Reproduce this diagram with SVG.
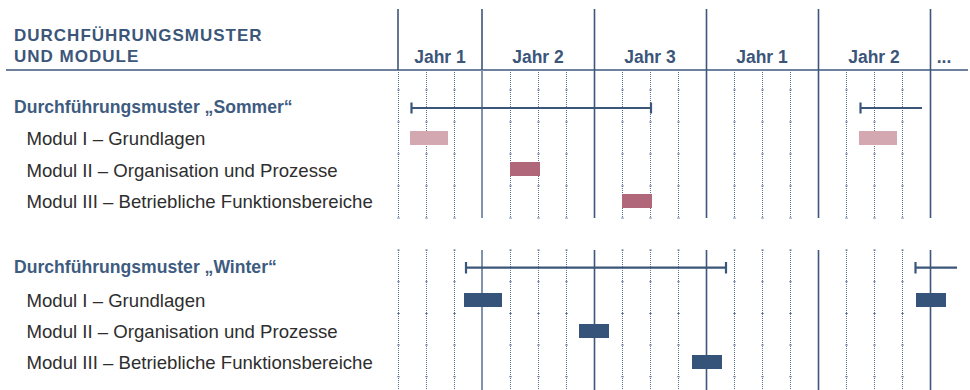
<svg xmlns="http://www.w3.org/2000/svg" width="970" height="390" viewBox="0 0 970 390">
<style>
text{font-family:"Liberation Sans",Arial,sans-serif;}
.hd{font-weight:bold;fill:#3c5679;font-size:17px;letter-spacing:1px;}
.yr{font-weight:bold;fill:#3c5679;font-size:17.5px;text-anchor:middle;}
.ti{font-weight:bold;font-size:17.6px;fill:#3e5b80;}
.mo{font-size:18.6px;fill:#2e2e2e;}
.solid{stroke:#3d5679;stroke-width:1.6;fill:none;}
.light{stroke:#8192aa;stroke-width:2;fill:none;}
.dots{stroke:#5d7392;stroke-width:1;stroke-dasharray:1 1;fill:none;}
.ticks{stroke:#5d7392;stroke-width:2.4;fill:none;}
.rule{stroke:#6e819d;stroke-width:2;fill:none;}
.span{stroke:#3a5679;stroke-width:2.2;fill:none;}
.pl{fill:#d3a8b1;}
.pd{fill:#b06779;}
.bd{fill:#365479;}
</style>
<defs>
<path id="dotS" d="M398.5,70V218M426.5,70V218M454.5,70V218M510.5,70V218M538.5,70V218M566.5,70V218M622.5,70V218M650.5,70V218M678.5,70V218M734.5,70V218M762.5,70V218M790.5,70V218M846.5,70V218M874.5,70V218M902.5,70V218"/>
<path id="dotW" d="M398.5,250V390M426.5,250V390M454.5,250V390M510.5,250V390M538.5,250V390M566.5,250V390M622.5,250V390M650.5,250V390M678.5,250V390M734.5,250V390M762.5,250V390M790.5,250V390M846.5,250V390M874.5,250V390M902.5,250V390"/>
</defs>

<g id="grid">
  <path class="rule" d="M6,70H968"/>
  <path class="solid" d="M398,9V70M482,9V70M594.5,9V70M706.5,9V70M818.5,9V70M930.5,9V70"/>
  <use href="#dotS" class="dots"/>
  <use href="#dotW" class="dots"/>
  <path class="ticks" stroke-dasharray="1 31" d="M398.5,89.5V219M426.5,89.5V219M454.5,89.5V219M510.5,89.5V219M538.5,89.5V219M566.5,89.5V219M622.5,89.5V219M650.5,89.5V219M678.5,89.5V219M734.5,89.5V219M762.5,89.5V219M790.5,89.5V219M846.5,89.5V219M874.5,89.5V219M902.5,89.5V219"/>
  <path class="ticks" stroke-dasharray="1 30.7" d="M398.5,249.5V380M426.5,249.5V380M454.5,249.5V380M510.5,249.5V380M538.5,249.5V380M566.5,249.5V380M622.5,249.5V380M650.5,249.5V380M678.5,249.5V380M734.5,249.5V380M762.5,249.5V380M790.5,249.5V380M846.5,249.5V380M874.5,249.5V380M902.5,249.5V380"/>
  <path class="light" d="M482,70V218M482,250V390"/>
  <path class="solid" d="M594.5,70V218M706.5,70V218M818.5,70V218M930.5,70V218M594.5,250V390M706.5,250V390M818.5,250V390M930.5,250V390"/>
</g>

<g id="header">
  <text class="hd" x="14" y="41">DURCHFÜHRUNGSMUSTER</text>
  <text class="hd" x="14" y="62">UND MODULE</text>
</g>

<g id="years">
  <text class="yr" x="440" y="62.5">Jahr 1</text>
  <text class="yr" x="538" y="62.5">Jahr 2</text>
  <text class="yr" x="650" y="62.5">Jahr 3</text>
  <text class="yr" x="762" y="62.5">Jahr 1</text>
  <text class="yr" x="874" y="62.5">Jahr 2</text>
  <text class="yr" x="944" y="62.5">...</text>
</g>

<g id="sommer">
  <text class="ti" x="14" y="113">Durchführungsmuster „Sommer“</text>
  <path class="span" d="M411.5,102.5V113.5M411.5,108H651M651,102.5V113.5M860.5,102.5V113.5M860.5,108H922"/>
  <g id="sommer-modul-1">
    <text class="mo" x="26.5" y="145">Modul I – Grundlagen</text>
    <rect class="pl" x="410" y="131" width="38" height="14"/>
    <rect class="pl" x="859" y="131" width="38" height="14"/>
  </g>
  <g id="sommer-modul-2">
    <text class="mo" x="26.5" y="176.5">Modul II – Organisation und Prozesse</text>
    <rect class="pd" x="510" y="162" width="30" height="14"/>
  </g>
  <g id="sommer-modul-3">
    <text class="mo" x="26.5" y="208">Modul III – Betriebliche Funktionsbereiche</text>
    <rect class="pd" x="622" y="194" width="30" height="14"/>
  </g>
</g>

<g id="winter">
  <text class="ti" x="14" y="272.5">Durchführungsmuster „Winter“</text>
  <path class="span" d="M466,262V273.5M466,267.7H726M726,262V273.5M915.5,262V273.5M915.5,267.7H957"/>
  <g id="winter-modul-1">
    <text class="mo" x="26.5" y="307">Modul I – Grundlagen</text>
    <rect class="bd" x="464" y="293" width="38" height="14"/>
    <rect class="bd" x="916" y="293" width="30" height="14"/>
  </g>
  <g id="winter-modul-2">
    <text class="mo" x="26.5" y="338">Modul II – Organisation und Prozesse</text>
    <rect class="bd" x="579" y="324" width="30" height="14"/>
  </g>
  <g id="winter-modul-3">
    <text class="mo" x="26.5" y="369">Modul III – Betriebliche Funktionsbereiche</text>
    <rect class="bd" x="692" y="355" width="30" height="14"/>
  </g>
</g>
</svg>
